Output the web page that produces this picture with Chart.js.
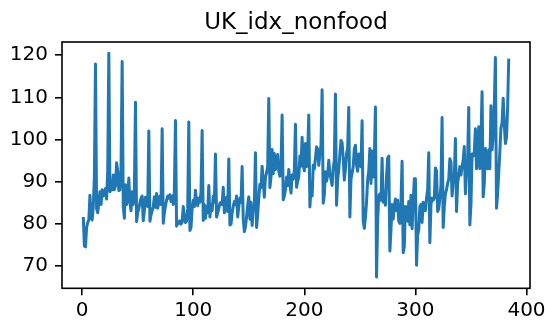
<!DOCTYPE html>
<html>
<head>
<meta charset="utf-8">
<script src="https://cdn.jsdelivr.net/npm/chart.js@4/dist/chart.umd.min.js"></script>
<style>
  html, body { margin: 0; padding: 0; background: #fff; }
  canvas { display: block; }
</style>
</head>
<body>
<canvas id="chart" width="545" height="323"></canvas>
<script>
const chartTitle = 'UK_idx_nonfood';

// monthly index, one row per year
const values = [
  81.5, 74.6, 74.4, 79.0, 80.2, 80.8, 86.7, 81.5, 80.8, 84.0, 91.0, 117.9,
  83.5, 82.5, 85.0, 87.5, 84.5, 88.0, 86.5, 87.0, 88.3, 85.8, 92.5, 120.5,
  87.5, 88.2, 88.0, 91.5, 88.0, 89.0, 94.4, 92.5, 87.8, 88.0, 93.0, 118.5,
  84.0, 81.2, 89.2, 84.5, 86.0, 90.8, 85.0, 83.0, 87.5, 84.5, 88.0, 108.8,
  80.4, 82.5, 83.5, 84.8, 86.0, 86.5, 80.6, 83.0, 86.2, 85.5, 84.0, 102.0,
  80.5, 82.0, 83.0, 84.0, 86.3, 83.8, 87.1, 83.6, 85.0, 86.5, 84.5, 102.5,
  80.0, 82.5, 84.2, 85.5, 86.5, 86.0, 86.8, 85.2, 86.5, 84.5, 87.5, 104.5,
  79.3, 80.4, 80.0, 80.6, 79.8, 80.3, 84.0, 81.5, 80.2, 80.5, 83.5, 104.1,
  78.3, 79.0, 83.6, 85.5, 84.0, 87.9, 85.0, 84.2, 86.0, 85.0, 87.5, 102.1,
  80.7, 84.5, 81.2, 84.0, 82.5, 89.0, 81.5, 84.5, 83.0, 86.5, 85.0, 96.5,
  81.5, 82.5, 83.5, 84.8, 85.0, 84.5, 88.6, 82.5, 85.5, 86.2, 82.8, 95.3,
  79.6, 79.8, 82.5, 84.0, 85.2, 84.5, 86.5, 81.5, 84.0, 86.0, 85.0, 93.5,
  81.0, 78.0, 79.2, 81.5, 84.3, 86.3, 81.0, 85.0, 79.5, 83.0, 84.5, 96.8,
  79.0, 82.0, 86.0, 89.3, 88.5, 93.6, 90.0, 86.2, 91.0, 92.0, 93.5, 109.7,
  88.5, 91.0, 97.6, 91.8, 96.6, 92.8, 95.0, 96.4, 92.5, 91.2, 93.5, 105.8,
  85.6, 86.5, 88.0, 91.0, 89.0, 92.8, 89.5, 87.2, 91.5, 90.5, 92.5, 103.6,
  88.6, 90.0, 91.0, 96.0, 93.6, 100.5, 94.0, 92.5, 99.0, 93.5, 97.0, 105.8,
  83.9, 88.5, 86.5, 93.8, 93.0, 95.5, 98.2, 97.6, 93.8, 96.5, 98.5, 111.8,
  84.8, 86.8, 92.3, 90.0, 91.5, 95.0, 92.0, 90.5, 89.0, 93.0, 95.0, 110.8,
  84.3, 90.5, 92.8, 96.5, 99.7, 99.2, 95.5, 90.3, 93.0, 96.5, 98.0, 107.6,
  81.5, 90.5, 92.0, 93.5, 97.8, 98.6, 93.8, 92.4, 96.5, 95.0, 93.5, 104.4,
  80.5, 78.8, 81.5, 85.0, 90.3, 92.5, 97.8, 89.5, 97.2, 91.0, 95.0, 107.7,
  67.2, 80.5, 86.5, 87.0, 85.5, 95.5, 85.0, 86.5, 84.3, 91.0, 95.5, 96.0,
  73.4, 78.5, 84.5, 81.0, 84.0, 85.8, 83.0, 85.5, 80.5, 80.0, 85.0, 94.8,
  73.0, 74.5, 84.0, 83.8, 80.5, 85.2, 79.6, 86.7, 78.7, 85.0, 90.6, 90.6,
  70.0, 77.2, 78.5, 84.0, 84.5, 80.2, 85.0, 84.8, 83.0, 86.0, 88.0, 96.8,
  75.4, 84.5, 86.0, 85.5, 86.0, 93.2, 92.5, 82.8, 83.5, 86.0, 89.0, 105.2,
  79.0, 84.0, 87.0, 88.0, 89.5, 90.5, 95.4, 94.5, 86.5, 90.0, 91.0, 100.2,
  82.8, 89.5, 91.5, 93.5, 91.5, 93.5, 95.0, 98.3, 87.0, 92.0, 95.0, 107.6,
  79.6, 84.5, 96.5, 96.0, 97.0, 102.5, 93.0, 96.0, 103.0, 93.0, 100.0, 111.3,
  86.3, 89.5, 97.8, 95.0, 93.0, 97.5, 93.0, 108.0, 97.5, 101.0, 108.0, 119.5,
  83.6, 87.0, 92.0, 97.0, 102.7, 103.8, 109.8, 103.5, 99.0, 100.5, 107.5, 119.2
];

const xTicks = [0, 100, 200, 300, 400];
const yTicks = [70, 80, 90, 100, 110, 120];

// x positions are just the running month number
const months = values.map((v, i) => i + 1);
const points = months.map((m, i) => ({ x: m, y: values[i] }));

// 5% margins around the data, like the usual autoscale
function padRange(arr) {
  const lo = Math.min(...arr), hi = Math.max(...arr);
  const m = (hi - lo) * 0.05;
  return [lo - m, hi + m];
}
const [xMin, xMax] = padRange(months);
const [yMin, yMax] = padRange(values);

Chart.defaults.font.family = '"DejaVu Sans", sans-serif';
Chart.defaults.color = '#000';

// black box round the plotting area
const frame = {
  id: 'frame',
  afterDraw(chart) {
    const { ctx, chartArea: a } = chart;
    ctx.save();
    ctx.strokeStyle = '#000';
    ctx.lineWidth = 1.6;
    ctx.strokeRect(a.left, a.top, a.right - a.left, a.bottom - a.top);
    ctx.restore();
  }
};

new Chart(document.getElementById('chart'), {
  type: 'line',
  data: {
    datasets: [{
      data: points,
      borderColor: '#1f77b4',
      borderWidth: 3,
      borderJoinStyle: 'round',
      pointRadius: 0,
      tension: 0,
      fill: false
    }]
  },
  options: {
    responsive: false,
    animation: false,
    devicePixelRatio: 1,
    layout: { padding: { left: 0, right: 15, top: 0, bottom: 0 } },
    plugins: {
      legend: { display: false },
      tooltip: { enabled: false },
      title: {
        display: true,
        text: chartTitle,
        color: '#000',
        fullSize: false,
        font: { size: 23, weight: 'normal', lineHeight: 1.2 },
        padding: { top: 9, bottom: 5.4 }
      }
    },
    scales: {
      x: {
        type: 'linear',
        min: xMin,
        max: xMax,
        afterBuildTicks: s => { s.ticks = xTicks.map(v => ({ value: v })); },
        afterFit: s => { s.height = 34.7; s.paddingLeft = 0; s.paddingRight = 0; },
        border: { display: false },
        grid: { drawOnChartArea: false, drawTicks: true, tickLength: 7, color: '#000', lineWidth: 1.6 },
        ticks: { font: { size: 20 }, padding: 3, maxRotation: 0 }
      },
      y: {
        min: yMin,
        max: yMax,
        afterBuildTicks: s => { s.ticks = yTicks.map(v => ({ value: v })); },
        afterFit: s => { s.width = 62; s.paddingTop = 0; s.paddingBottom = 0; },
        border: { display: false },
        grid: { drawOnChartArea: false, drawTicks: true, tickLength: 7, color: '#000', lineWidth: 1.6 },
        ticks: { font: { size: 20 }, padding: 7 }
      }
    }
  },
  plugins: [frame]
});
</script>
</body>
</html>
